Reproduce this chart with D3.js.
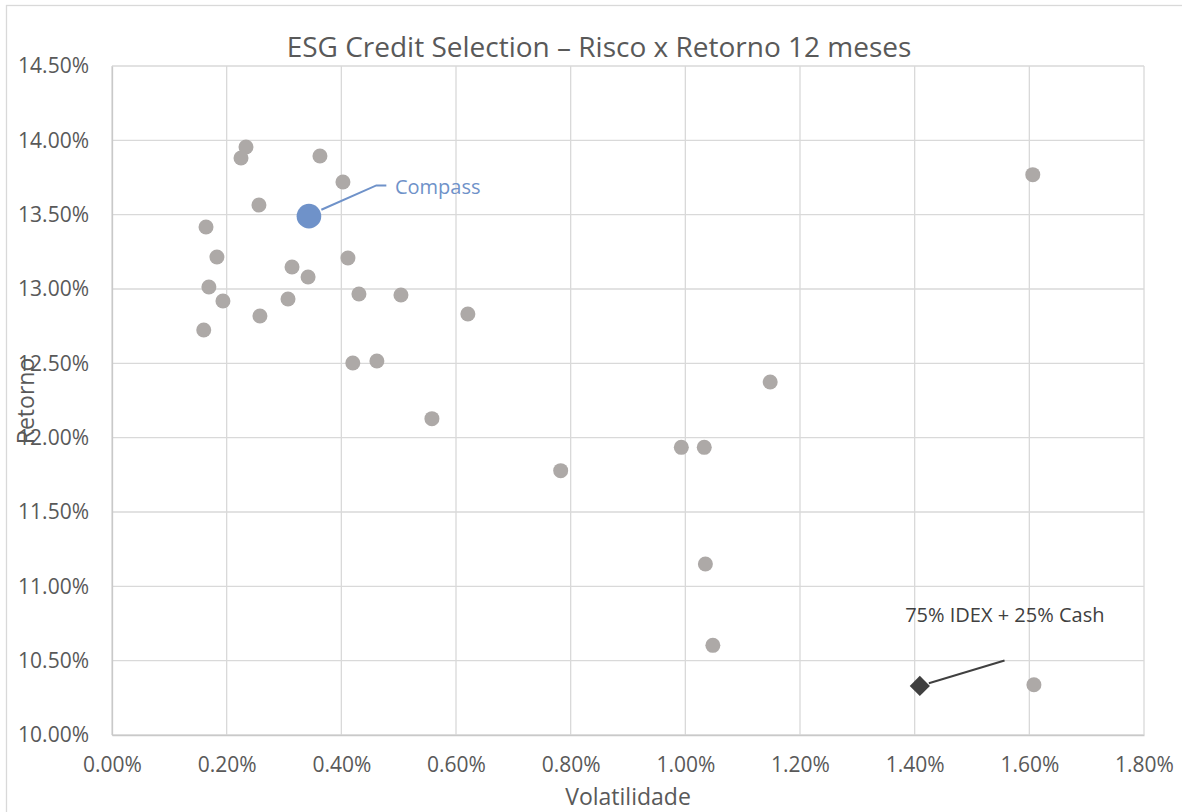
<!DOCTYPE html>
<html>
<head>
<meta charset="utf-8">
<script src="https://cdn.jsdelivr.net/npm/d3@7"></script>
<style>
  html, body { margin: 0; padding: 0; background: #ffffff; }
  svg { display: block; }
  text { font-family: "Open Sans", Lato, sans-serif; }
</style>
</head>
<body>
<svg id="chart" width="1182" height="812"></svg>
<script>
// Peer funds: 12-month volatility (%) and return (%)
const peerVol = [0.2337, 0.225, 0.3627, 0.4028, 0.2563, 0.164, 0.183, 0.4115, 0.314, 0.342,
                 0.169, 0.4307, 0.504, 0.307, 0.1935, 0.6207, 0.258, 0.160, 0.420, 0.462,
                 0.558, 0.7826, 0.993, 1.033, 1.148, 1.035, 1.048, 1.606, 1.608];
const peerRet = [13.955, 13.881, 13.895, 13.72, 13.565, 13.417, 13.215, 13.209, 13.148, 13.081,
                 13.013, 12.966, 12.96, 12.933, 12.919, 12.832, 12.818, 12.724, 12.502, 12.516,
                 12.128, 11.778, 11.935, 11.935, 12.374, 11.150, 10.603, 13.769, 10.338];

// Highlighted fund and benchmark
const fundName = ["Compass"];
const fundVol = [0.3435];
const fundRet = [13.49];
const benchName = ["75% IDEX + 25% Cash"];
const benchVol = [1.409];
const benchRet = [10.33];

// Axis ticks
const xTicks = [0, 0.2, 0.4, 0.6, 0.8, 1.0, 1.2, 1.4, 1.6, 1.8];
const yTicks = [10.0, 10.5, 11.0, 11.5, 12.0, 12.5, 13.0, 13.5, 14.0, 14.5];

const titleText = "ESG Credit Selection \u2013 Risco x Retorno 12 meses";
const xTitle = "Volatilidade";
const yTitle = "Retorno";

const svg = d3.select("#chart");
const plot = { left: 112, right: 1144, top: 66, bottom: 735 };

const x = d3.scaleLinear().domain([0, 1.8]).range([plot.left, plot.right]);
const y = d3.scaleLinear().domain([10, 14.5]).range([plot.bottom, plot.top]);

const fmt = d => d3.format(".2f")(d) + "%";
const textColor = "#595959";

// Chart area border
svg.append("rect")
  .attr("x", 6.5).attr("y", 5.5)
  .attr("width", 1200).attr("height", 830)
  .attr("fill", "#ffffff")
  .attr("stroke", "#d9d9d9").attr("stroke-width", 1.3);

// Gridlines
const grid = svg.append("g");
grid.selectAll("line.v").data(xTicks).join("line")
  .attr("class", "v")
  .attr("x1", d => x(d)).attr("x2", d => x(d))
  .attr("y1", plot.top).attr("y2", plot.bottom)
  .attr("stroke", "#d9d9d9").attr("stroke-width", 1.3);
grid.selectAll("line.h").data(yTicks).join("line")
  .attr("class", "h")
  .attr("x1", plot.left).attr("x2", plot.right)
  .attr("y1", d => y(d)).attr("y2", d => y(d))
  .attr("stroke", "#d9d9d9").attr("stroke-width", 1.3);

// Axes (tick labels; the frame lines are the outer gridlines)
const xAxis = svg.append("g")
  .attr("transform", `translate(0,${plot.bottom})`)
  .call(d3.axisBottom(x).tickValues(xTicks).tickFormat(fmt).tickSize(0).tickPadding(22));
const yAxis = svg.append("g")
  .attr("transform", `translate(${plot.left},0)`)
  .call(d3.axisLeft(y).tickValues(yTicks).tickFormat(fmt).tickSize(0).tickPadding(23));
[xAxis, yAxis].forEach(a => {
  a.select(".domain").attr("stroke", "#c9c9c9").attr("stroke-width", 1.3);
  a.selectAll("text").attr("fill", textColor).style("font-size", "21px")
    .style("font-family", "'Open Sans', Lato, sans-serif");
});

// Title
svg.append("text")
  .attr("x", 599).attr("y", 57)
  .attr("text-anchor", "middle")
  .attr("fill", textColor)
  .style("font-size", "28px")
  .text(titleText);

// Axis titles
svg.append("text")
  .attr("x", 628).attr("y", 805)
  .attr("text-anchor", "middle")
  .attr("fill", textColor)
  .style("font-size", "23px")
  .text(xTitle);
svg.append("text")
  .attr("transform", "translate(34,401) rotate(-90)")
  .attr("text-anchor", "middle")
  .attr("fill", textColor)
  .style("font-size", "23px")
  .text(yTitle);

// Peer points
svg.append("g").selectAll("circle").data(peerVol.map((v, i) => [v, peerRet[i]])).join("circle")
  .attr("cx", d => x(d[0])).attr("cy", d => y(d[1]))
  .attr("r", 7.5)
  .attr("fill", "#ada9a7");

// Highlighted fund with leader line and label
const fund = svg.append("g");
fundVol.forEach((v, i) => {
  const px = x(v), py = y(fundRet[i]);
  fund.append("polyline")
    .attr("points", `${px + 12.4},${py - 6.4} ${px + 67.4},${py - 30.7} ${px + 77.4},${py - 30.7}`)
    .attr("fill", "none").attr("stroke", "#6f92c9").attr("stroke-width", 2);
  fund.append("circle")
    .attr("cx", px).attr("cy", py).attr("r", 12.3)
    .attr("fill", "#6f92c9");
  fund.append("text")
    .attr("x", px + 86).attr("y", py - 22)
    .attr("fill", "#6f92c9")
    .style("font-size", "20px")
    .text(fundName[i]);
});

// Benchmark diamond with leader line and label
const bench = svg.append("g");
benchVol.forEach((v, i) => {
  const px = x(v), py = y(benchRet[i]);
  bench.append("line")
    .attr("x1", px + 9).attr("y1", py - 2.7)
    .attr("x2", px + 84.7).attr("y2", py - 25.4)
    .attr("stroke", "#404040").attr("stroke-width", 2);
  bench.append("path")
    .attr("d", d3.symbol().type(d3.symbolDiamond2).size(260)())
    .attr("transform", `translate(${px},${py})`)
    .attr("fill", "#404040");
  bench.append("text")
    .attr("x", px + 85).attr("y", py - 64)
    .attr("text-anchor", "middle")
    .attr("fill", "#404040")
    .style("font-size", "20px")
    .text(benchName[i]);
});
</script>
</body>
</html>
